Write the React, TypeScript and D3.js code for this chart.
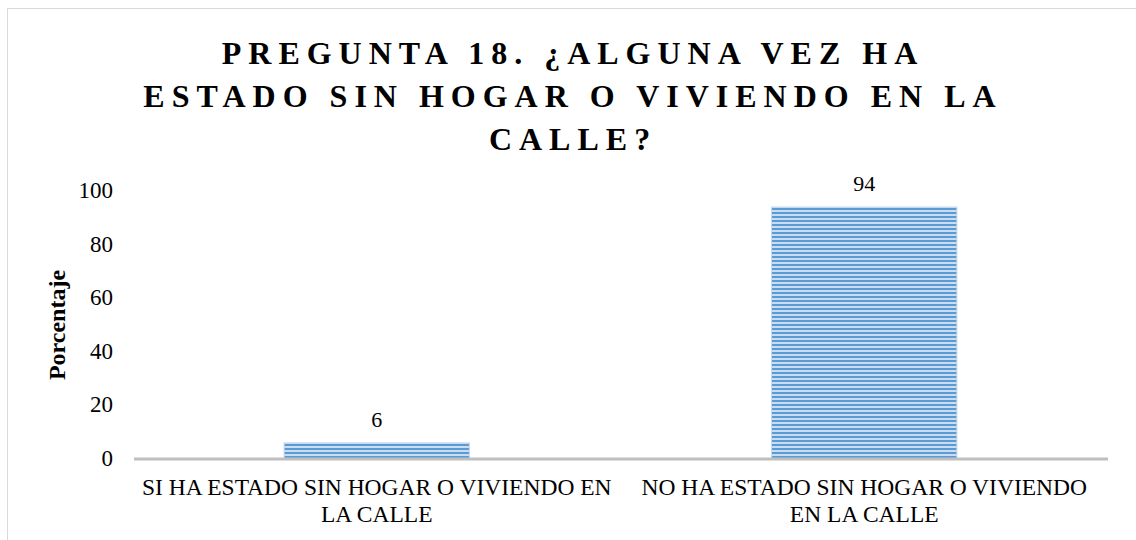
import React from "react";
import * as d3 from "d3";

const titleLines = ["PREGUNTA 18. ¿ALGUNA VEZ HA", "ESTADO SIN HOGAR O VIVIENDO EN LA", "CALLE?"];
const categories = ["SI", "NO"];
const categoryLabelLines = [
  ["SI HA ESTADO SIN HOGAR O VIVIENDO EN", "LA CALLE"],
  ["NO HA ESTADO SIN HOGAR O VIVIENDO", "EN LA CALLE"],
];
const values = [6, 94];
const yTicks = [0, 20, 40, 60, 80, 100];
const yAxisTitle = "Porcentaje";

const W = 1136;
const H = 540;
const FONT = "Liberation Serif";

export default function App() {
  const x = d3.scaleBand<string>().domain(categories).range([133, 1108]).padding(0);
  const y = d3.scaleLinear().domain([0, 100]).range([459, 191]);
  const bw = x.bandwidth() * 0.38;

  return (
    <svg
      width={W}
      height={H}
      style={{ position: "absolute", left: 0, top: 0, background: "#fff", fontFamily: FONT }}
    >
      <defs>
        <pattern id="stripes" patternUnits="userSpaceOnUse" width={8} height={4} y={y(100)}>
          <rect x={0} y={0} width={8} height={4} fill="#C9DCF0" />
          <rect x={0} y={1} width={8} height={2} fill="#5B9BD5" />
        </pattern>
      </defs>
      <rect x={0} y={0} width={W} height={H} fill="#fff" />
      <rect x={7.5} y={8.5} width={1300} height={700} fill="none" stroke="#D9D9D9" strokeWidth={1} />

      <text
        textAnchor="middle"
        fontSize={32}
        fontWeight="bold"
        letterSpacing={7}
        fill="#000"
        style={{ fontFamily: FONT }}
      >
        {titleLines.map((t, i) => (
          <tspan key={i} x={573} y={64 + i * 43}>
            {t}
          </tspan>
        ))}
      </text>

      {yTicks.map((t) => (
        <text key={t} x={113} y={y(t) + 7} textAnchor="end" fontSize={23} fill="#000" style={{ fontFamily: FONT }}>
          {t}
        </text>
      ))}

      <text
        transform={`translate(65, ${(y(0) + y(100)) / 2}) rotate(-90)`}
        textAnchor="middle"
        fontSize={24}
        fontWeight="bold"
        fill="#000"
        style={{ fontFamily: FONT }}
      >
        {yAxisTitle}
      </text>

      {categories.map((c, i) => {
        const cx = (x(c) as number) + x.bandwidth() / 2;
        return (
          <g key={c}>
            <rect
              x={cx - bw / 2}
              y={y(values[i])}
              width={bw}
              height={y(0) - y(values[i])}
              fill="url(#stripes)"
              stroke="#BDD7EE"
              strokeWidth={1}
            />
            <text x={cx} y={y(values[i]) - 16} textAnchor="middle" fontSize={22} fill="#000" style={{ fontFamily: FONT }}>
              {values[i]}
            </text>
            <text textAnchor="middle" fontSize={23.5} fill="#000" style={{ fontFamily: FONT }}>
              {categoryLabelLines[i].map((l, j) => (
                <tspan key={j} x={cx} y={495 + j * 26.5}>
                  {l}
                </tspan>
              ))}
            </text>
          </g>
        );
      })}

      <line x1={134} x2={1108} y1={y(0)} y2={y(0)} stroke="#BFBFBF" strokeWidth={3} />
    </svg>
  );
}
